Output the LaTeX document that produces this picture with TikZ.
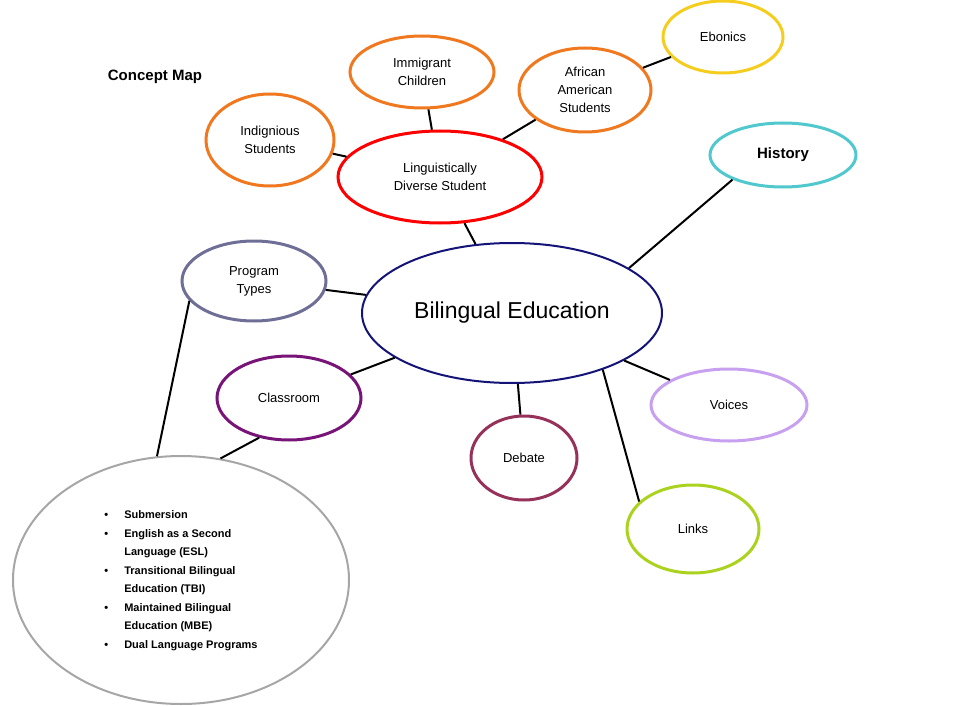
\documentclass[tikz,border=0pt]{standalone}
\usepackage{fontspec}
\setmainfont{Liberation Sans}
\usetikzlibrary{shapes.geometric}
\definecolor{navy}{RGB}{20,20,120}
\definecolor{orng}{RGB}{240,120,30}
\definecolor{gold}{RGB}{245,205,30}
\definecolor{teal}{RGB}{80,200,205}
\definecolor{slate}{RGB}{110,110,150}
\definecolor{purp}{RGB}{120,20,120}
\definecolor{plum}{RGB}{150,50,90}
\definecolor{lav}{RGB}{200,160,240}
\definecolor{lime}{RGB}{170,210,30}

\begin{document}
\begin{tikzpicture}[
    x=1pt,y=-1pt,
    oval/.style={ellipse,draw,line width=3pt,inner sep=0pt,align=center,font=\fontsize{13}{18}\selectfont},
    link/.style={line width=2pt}
]
\useasboundingbox (0,0) rectangle (964,706);

% Title
\node[font=\bfseries\fontsize{15}{18}\selectfont] (title) at (155,77) {Concept Map};

% Centre and student branch
\node[oval,draw=navy,line width=2pt,minimum width=300,minimum height=140,font=\fontsize{23}{28}\selectfont] (bil) at (512,313) {Bilingual Education};
\node[oval,draw=red,minimum width=204,minimum height=92] (ling) at (440,177) {Linguistically\\Diverse Student};
\node[oval,draw=orng,minimum width=144,minimum height=72] (immig) at (422,72) {Immigrant\\Children};
\node[oval,draw=orng,minimum width=128,minimum height=92] (indig) at (270,140) {Indignious\\Students};
\node[oval,draw=orng,minimum width=132,minimum height=84] (afr) at (585,90) {African\\American\\Students};
\node[oval,draw=gold,minimum width=120,minimum height=72] (ebon) at (723,37) {Ebonics};

% Other branches
\node[oval,draw=teal,minimum width=146,minimum height=64,font=\bfseries\fontsize{15}{18}\selectfont] (hist) at (783,155) {History};
\node[oval,draw=slate,minimum width=144,minimum height=80] (prog) at (254,281) {Program\\Types};
\node[oval,draw=purp,minimum width=144,minimum height=84] (cls) at (289,398) {Classroom};
\node[oval,draw=plum,minimum width=106,minimum height=84] (deb) at (524,458) {Debate};
\node[oval,draw=lav,minimum width=156,minimum height=72] (voic) at (729,405) {Voices};
\node[oval,draw=lime,minimum width=132,minimum height=88] (lnk) at (693,529) {Links};

% Program list
\node[oval,draw=gray!70,line width=2pt,minimum width=336,minimum height=248,font=\bfseries\fontsize{11}{18.5}\selectfont] (list) at (181,580) {%
  \begin{tabular}{@{}l@{\hspace{16pt}}l@{}}
  \textbullet & Submersion\\
  \textbullet & English as a Second\\
              & Language (ESL)\\
  \textbullet & Transitional Bilingual\\
              & Education (TBI)\\
  \textbullet & Maintained Bilingual\\
              & Education (MBE)\\
  \textbullet & Dual Language Programs
  \end{tabular}};

% Connectors
\draw[link] (indig) -- (ling);
\draw[link] (immig) -- (ling);
\draw[link] (afr) -- (ling);
\draw[link] (ebon) -- (afr);
\draw[link] (ling) -- (bil);
\draw[link] (hist.206) -- (bil.21);
\draw[link] (prog) -- (bil);
\draw[link] (cls) -- (bil);
\draw[link] (deb) -- (bil);
\draw[link] (voic) -- (bil);
\draw[link] (bil.-32) -- (lnk.153);
\draw[link] (prog.197) -- (list.101);
\draw[link] (cls.233) -- (list.72);

\end{tikzpicture}
\end{document}
